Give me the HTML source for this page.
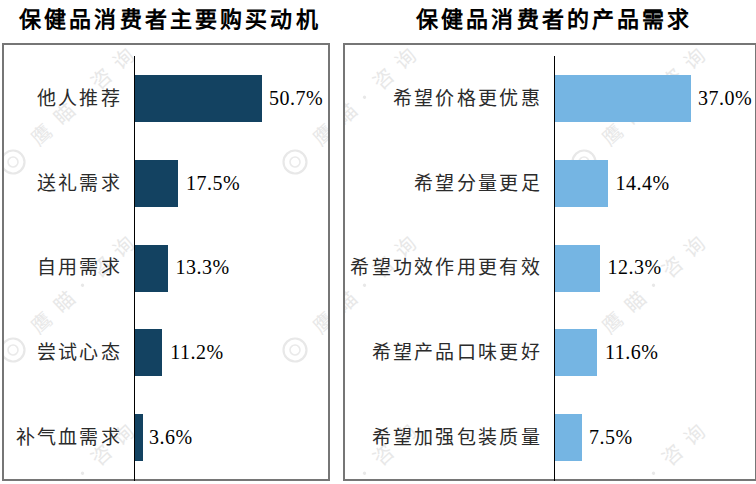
<!DOCTYPE html>
<html lang="zh-CN">
<head>
<meta charset="utf-8">
<style>
*{margin:0;padding:0;box-sizing:border-box}
html,body{width:756px;height:484px;overflow:hidden;background:#fff}
body{position:relative;font-family:"Liberation Serif",serif;color:#000}
.t{position:absolute;top:6px;font-size:22px;font-weight:bold;letter-spacing:3.15px;white-space:nowrap;line-height:28px}
.box{position:absolute;top:43px;height:438px;border:2px solid #767676}
.ax{position:absolute;top:56px;height:425px;width:1px;background:#000}
.bar{position:absolute;height:47px}
.wm{position:absolute;font-family:"Liberation Sans",sans-serif;font-size:20px;fill:#e8e8e8;text-anchor:middle}
.l .bar{background:#134261;left:135px}
.r .bar{background:#75b5e3;left:555px}
.lab{position:absolute;font-size:19px;letter-spacing:2.3px;line-height:24px;white-space:nowrap;text-align:right;color:#2b2b2b}
.v{position:absolute;font-size:20px;letter-spacing:0.5px;line-height:24px;white-space:nowrap}
</style>
</head>
<body>
<div class="t" style="left:19px">保健品消费者主要购买动机</div>
<div class="t" style="left:416px">保健品消费者的产品需求</div>

<div class="box" style="left:2px;width:328px"></div>
<div class="box" style="left:343px;width:414px"></div>

<svg class="wm" style="left:4px;top:45px" width="324" height="434"><g transform="translate(9 117) rotate(-43)"><circle r="11.5" fill="none" stroke="#e8e8e8" stroke-width="2.2"/><circle r="5" fill="none" stroke="#eaeaea" stroke-width="1.6"/><text x="39" y="7">鹰</text><text x="70" y="7">瞄</text><circle cx="95" cy="0" r="1.7" fill="#e8e8e8"/><text x="121" y="7">咨</text><text x="151" y="7">询</text></g><g transform="translate(9 305) rotate(-43)"><circle r="11.5" fill="none" stroke="#e8e8e8" stroke-width="2.2"/><circle r="5" fill="none" stroke="#eaeaea" stroke-width="1.6"/><text x="39" y="7">鹰</text><text x="70" y="7">瞄</text><circle cx="95" cy="0" r="1.7" fill="#e8e8e8"/><text x="121" y="7">咨</text><text x="151" y="7">询</text></g><g transform="translate(9 493) rotate(-43)"><circle r="11.5" fill="none" stroke="#e8e8e8" stroke-width="2.2"/><circle r="5" fill="none" stroke="#eaeaea" stroke-width="1.6"/><text x="39" y="7">鹰</text><text x="70" y="7">瞄</text><circle cx="95" cy="0" r="1.7" fill="#e8e8e8"/><text x="121" y="7">咨</text><text x="151" y="7">询</text></g><g transform="translate(291 117) rotate(-43)"><circle r="11.5" fill="none" stroke="#e8e8e8" stroke-width="2.2"/><circle r="5" fill="none" stroke="#eaeaea" stroke-width="1.6"/><text x="39" y="7">鹰</text><text x="70" y="7">瞄</text><circle cx="95" cy="0" r="1.7" fill="#e8e8e8"/><text x="121" y="7">咨</text><text x="151" y="7">询</text></g><g transform="translate(291 305) rotate(-43)"><circle r="11.5" fill="none" stroke="#e8e8e8" stroke-width="2.2"/><circle r="5" fill="none" stroke="#eaeaea" stroke-width="1.6"/><text x="39" y="7">鹰</text><text x="70" y="7">瞄</text><circle cx="95" cy="0" r="1.7" fill="#e8e8e8"/><text x="121" y="7">咨</text><text x="151" y="7">询</text></g><g transform="translate(291 493) rotate(-43)"><circle r="11.5" fill="none" stroke="#e8e8e8" stroke-width="2.2"/><circle r="5" fill="none" stroke="#eaeaea" stroke-width="1.6"/><text x="39" y="7">鹰</text><text x="70" y="7">瞄</text><circle cx="95" cy="0" r="1.7" fill="#e8e8e8"/><text x="121" y="7">咨</text><text x="151" y="7">询</text></g><g transform="translate(580 117) rotate(-43)"><circle r="11.5" fill="none" stroke="#e8e8e8" stroke-width="2.2"/><circle r="5" fill="none" stroke="#eaeaea" stroke-width="1.6"/><text x="39" y="7">鹰</text><text x="70" y="7">瞄</text><circle cx="95" cy="0" r="1.7" fill="#e8e8e8"/><text x="121" y="7">咨</text><text x="151" y="7">询</text></g><g transform="translate(580 305) rotate(-43)"><circle r="11.5" fill="none" stroke="#e8e8e8" stroke-width="2.2"/><circle r="5" fill="none" stroke="#eaeaea" stroke-width="1.6"/><text x="39" y="7">鹰</text><text x="70" y="7">瞄</text><circle cx="95" cy="0" r="1.7" fill="#e8e8e8"/><text x="121" y="7">咨</text><text x="151" y="7">询</text></g><g transform="translate(580 493) rotate(-43)"><circle r="11.5" fill="none" stroke="#e8e8e8" stroke-width="2.2"/><circle r="5" fill="none" stroke="#eaeaea" stroke-width="1.6"/><text x="39" y="7">鹰</text><text x="70" y="7">瞄</text><circle cx="95" cy="0" r="1.7" fill="#e8e8e8"/><text x="121" y="7">咨</text><text x="151" y="7">询</text></g></svg>
<svg class="wm" style="left:345px;top:45px" width="410" height="434"><g transform="translate(-332 117) rotate(-43)"><circle r="11.5" fill="none" stroke="#e8e8e8" stroke-width="2.2"/><circle r="5" fill="none" stroke="#eaeaea" stroke-width="1.6"/><text x="39" y="7">鹰</text><text x="70" y="7">瞄</text><circle cx="95" cy="0" r="1.7" fill="#e8e8e8"/><text x="121" y="7">咨</text><text x="151" y="7">询</text></g><g transform="translate(-332 305) rotate(-43)"><circle r="11.5" fill="none" stroke="#e8e8e8" stroke-width="2.2"/><circle r="5" fill="none" stroke="#eaeaea" stroke-width="1.6"/><text x="39" y="7">鹰</text><text x="70" y="7">瞄</text><circle cx="95" cy="0" r="1.7" fill="#e8e8e8"/><text x="121" y="7">咨</text><text x="151" y="7">询</text></g><g transform="translate(-332 493) rotate(-43)"><circle r="11.5" fill="none" stroke="#e8e8e8" stroke-width="2.2"/><circle r="5" fill="none" stroke="#eaeaea" stroke-width="1.6"/><text x="39" y="7">鹰</text><text x="70" y="7">瞄</text><circle cx="95" cy="0" r="1.7" fill="#e8e8e8"/><text x="121" y="7">咨</text><text x="151" y="7">询</text></g><g transform="translate(-50 117) rotate(-43)"><circle r="11.5" fill="none" stroke="#e8e8e8" stroke-width="2.2"/><circle r="5" fill="none" stroke="#eaeaea" stroke-width="1.6"/><text x="39" y="7">鹰</text><text x="70" y="7">瞄</text><circle cx="95" cy="0" r="1.7" fill="#e8e8e8"/><text x="121" y="7">咨</text><text x="151" y="7">询</text></g><g transform="translate(-50 305) rotate(-43)"><circle r="11.5" fill="none" stroke="#e8e8e8" stroke-width="2.2"/><circle r="5" fill="none" stroke="#eaeaea" stroke-width="1.6"/><text x="39" y="7">鹰</text><text x="70" y="7">瞄</text><circle cx="95" cy="0" r="1.7" fill="#e8e8e8"/><text x="121" y="7">咨</text><text x="151" y="7">询</text></g><g transform="translate(-50 493) rotate(-43)"><circle r="11.5" fill="none" stroke="#e8e8e8" stroke-width="2.2"/><circle r="5" fill="none" stroke="#eaeaea" stroke-width="1.6"/><text x="39" y="7">鹰</text><text x="70" y="7">瞄</text><circle cx="95" cy="0" r="1.7" fill="#e8e8e8"/><text x="121" y="7">咨</text><text x="151" y="7">询</text></g><g transform="translate(239 117) rotate(-43)"><circle r="11.5" fill="none" stroke="#e8e8e8" stroke-width="2.2"/><circle r="5" fill="none" stroke="#eaeaea" stroke-width="1.6"/><text x="39" y="7">鹰</text><text x="70" y="7">瞄</text><circle cx="95" cy="0" r="1.7" fill="#e8e8e8"/><text x="121" y="7">咨</text><text x="151" y="7">询</text></g><g transform="translate(239 305) rotate(-43)"><circle r="11.5" fill="none" stroke="#e8e8e8" stroke-width="2.2"/><circle r="5" fill="none" stroke="#eaeaea" stroke-width="1.6"/><text x="39" y="7">鹰</text><text x="70" y="7">瞄</text><circle cx="95" cy="0" r="1.7" fill="#e8e8e8"/><text x="121" y="7">咨</text><text x="151" y="7">询</text></g><g transform="translate(239 493) rotate(-43)"><circle r="11.5" fill="none" stroke="#e8e8e8" stroke-width="2.2"/><circle r="5" fill="none" stroke="#eaeaea" stroke-width="1.6"/><text x="39" y="7">鹰</text><text x="70" y="7">瞄</text><circle cx="95" cy="0" r="1.7" fill="#e8e8e8"/><text x="121" y="7">咨</text><text x="151" y="7">询</text></g></svg>
<div class="l">
<div class="ax" style="left:134px"></div>
<div class="bar" style="top:75px;width:127px"></div>
<div class="bar" style="top:160px;width:43px"></div>
<div class="bar" style="top:245px;width:33px"></div>
<div class="bar" style="top:329px;width:27px"></div>
<div class="bar" style="top:414px;width:8px"></div>
<div class="lab" style="right:634px;top:87px">他人推荐</div>
<div class="lab" style="right:634px;top:172px">送礼需求</div>
<div class="lab" style="right:634px;top:256px">自用需求</div>
<div class="lab" style="right:634px;top:341px">尝试心态</div>
<div class="lab" style="right:634px;top:426px">补气血需求</div>
<div class="v" style="left:269px;top:86px">50.7%</div>
<div class="v" style="left:186px;top:171px">17.5%</div>
<div class="v" style="left:175.5px;top:255px">13.3%</div>
<div class="v" style="left:170.3px;top:340px">11.2%</div>
<div class="v" style="left:149px;top:425px">3.6%</div>
</div>

<div class="r">
<div class="ax" style="left:554px"></div>
<div class="bar" style="top:75px;width:136px"></div>
<div class="bar" style="top:160px;width:53px"></div>
<div class="bar" style="top:245px;width:45px"></div>
<div class="bar" style="top:329px;width:42px"></div>
<div class="bar" style="top:414px;width:27px"></div>
<div class="lab" style="right:214px;top:87px">希望价格更优惠</div>
<div class="lab" style="right:214px;top:172px">希望分量更足</div>
<div class="lab" style="right:214px;top:256px">希望功效作用更有效</div>
<div class="lab" style="right:214px;top:341px">希望产品口味更好</div>
<div class="lab" style="right:214px;top:426px">希望加强包装质量</div>
<div class="v" style="left:698px;top:86px">37.0%</div>
<div class="v" style="left:615.5px;top:171px">14.4%</div>
<div class="v" style="left:607.5px;top:255px">12.3%</div>
<div class="v" style="left:605px;top:340px">11.6%</div>
<div class="v" style="left:589px;top:425px">7.5%</div>
</div>
</body>
</html>
